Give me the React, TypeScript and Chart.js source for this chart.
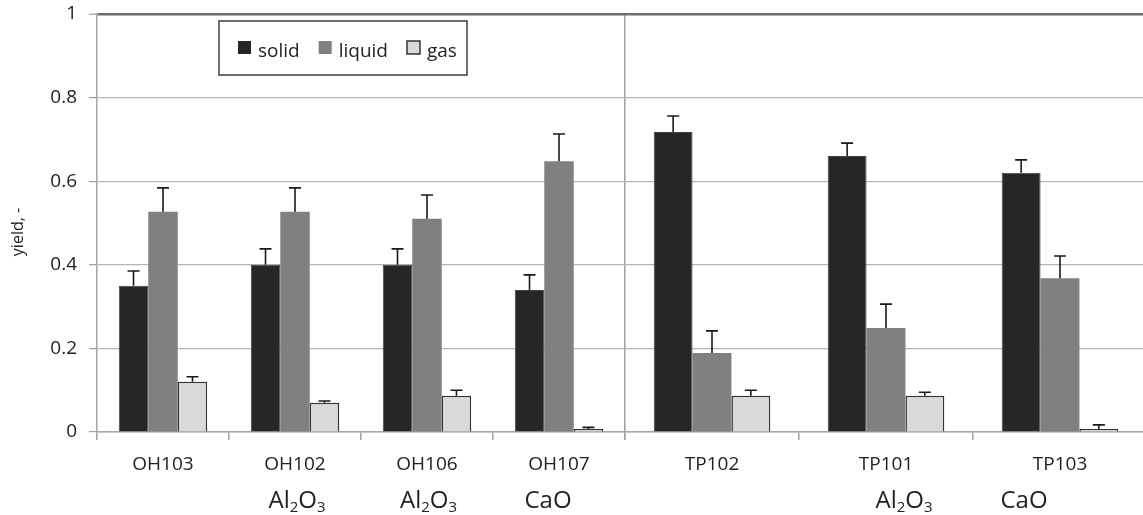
import React, { useEffect, useRef } from 'react';
import { Chart, registerables } from 'chart.js';

Chart.register(...registerables);

// ---- data ----
const seriesNames = ['solid', 'liquid', 'gas'];
const ohCategories = ['OH103', 'OH102', 'OH106', 'OH107'];
const tpCategories = ['TP102', 'TP101', 'TP103'];
const ohAdditives = ['', 'Al2O3', 'Al2O3', 'CaO'];
const tpAdditives = ['', 'Al2O3', 'CaO'];

const solidOH = [0.35, 0.4, 0.4, 0.34];
const liquidOH = [0.527, 0.527, 0.51, 0.648];
const gasOH = [0.12, 0.07, 0.087, 0.007];
const solidTP = [0.718, 0.66, 0.62];
const liquidTP = [0.189, 0.249, 0.368];
const gasTP = [0.087, 0.087, 0.007];

const solidErrOH = [0.035, 0.038, 0.038, 0.036];
const liquidErrOH = [0.057, 0.057, 0.057, 0.065];
const gasErrOH = [0.012, 0.004, 0.013, 0.004];
const solidErrTP = [0.038, 0.031, 0.031];
const liquidErrTP = [0.053, 0.057, 0.053];
const gasErrTP = [0.013, 0.008, 0.01];

const yTicks = [0, 0.2, 0.4, 0.6, 0.8, 1];
const yTitle = 'yield, -';

// ---- styles ----
const FONT = "'Open Sans', 'DejaVu Sans', sans-serif";
const TEXT = '#222222';
const fills = ['#262626', '#808080', '#d9d9d9'];
const borders = ['#444444', '#808080', '#333333'];
const borderWidths = [1, 0, 1.5];
const additiveShift: Record<string, number[]> = { x1: [0, 2, 1.5, -11], x2: [0, 18, -36] };

const errorBarPlugin = {
  id: 'errorBars',
  afterDatasetsDraw(chart: any) {
    const ctx = chart.ctx;
    const yScale = chart.scales.y;
    ctx.save();
    ctx.strokeStyle = '#1a1a1a';
    ctx.lineWidth = 1.6;
    chart.data.datasets.forEach((ds: any, i: number) => {
      const meta = chart.getDatasetMeta(i);
      meta.data.forEach((bar: any, j: number) => {
        const v = ds.data[j];
        const e = ds.errors[j];
        const yTop = yScale.getPixelForValue(v + e);
        const yBase = yScale.getPixelForValue(v);
        ctx.beginPath();
        ctx.moveTo(bar.x, yBase);
        ctx.lineTo(bar.x, yTop);
        ctx.moveTo(bar.x - 6, yTop);
        ctx.lineTo(bar.x + 6, yTop);
        ctx.stroke();
      });
    });
    ctx.restore();
  },
};

function drawFormula(ctx: any, text: string, cx: number, baseline: number) {
  const parts: { t: string; sub: boolean }[] = [];
  for (const ch of text) {
    const sub = /[0-9]/.test(ch);
    const last = parts[parts.length - 1];
    if (last && last.sub === sub) last.t += ch;
    else parts.push({ t: ch, sub });
  }
  const big = `24px ${FONT}`;
  const small = `15px ${FONT}`;
  let total = 0;
  parts.forEach((p) => {
    ctx.font = p.sub ? small : big;
    total += ctx.measureText(p.t).width;
  });
  let x = cx - total / 2;
  ctx.textAlign = 'left';
  ctx.textBaseline = 'alphabetic';
  parts.forEach((p) => {
    ctx.font = p.sub ? small : big;
    ctx.fillText(p.t, x, p.sub ? baseline + 4 : baseline);
    x += ctx.measureText(p.t).width;
  });
}

const annotationPlugin = {
  id: 'annotations',
  afterDraw(chart: any) {
    const ctx = chart.ctx;
    const area = chart.chartArea;
    ctx.save();
    ctx.fillStyle = TEXT;
    const groups: [string, string[]][] = [
      ['x1', ohAdditives],
      ['x2', tpAdditives],
    ];
    groups.forEach(([id, adds]) => {
      const sc = chart.scales[id];
      adds.forEach((a, i) => {
        if (!a) return;
        drawFormula(ctx, a, sc.getPixelForValue(i) + additiveShift[id][i], 508);
      });
    });
    // y-axis title
    ctx.save();
    ctx.translate(18, (area.top + area.bottom) / 2 + 9);
    ctx.rotate(-Math.PI / 2);
    ctx.font = `16px ${FONT}`;
    ctx.textAlign = 'center';
    ctx.textBaseline = 'middle';
    ctx.fillText(yTitle, 0, 0);
    ctx.restore();
    // legend box
    const bx = area.left + 122;
    const by = area.top + 7;
    const bw = 248;
    const bh = 54;
    ctx.fillStyle = '#ffffff';
    ctx.fillRect(bx, by, bw, bh);
    ctx.strokeStyle = '#404040';
    ctx.lineWidth = 1.5;
    ctx.strokeRect(bx, by, bw, bh);
    ctx.font = `19px ${FONT}`;
    ctx.textAlign = 'left';
    ctx.textBaseline = 'alphabetic';
    let x = bx + 19;
    const sq = 13;
    const sy = by + 20;
    seriesNames.forEach((name, i) => {
      ctx.fillStyle = fills[i];
      ctx.fillRect(x, sy, sq, sq);
      if (i === 2) {
        ctx.strokeStyle = '#333333';
        ctx.lineWidth = 1.5;
        ctx.strokeRect(x, sy, sq, sq);
      }
      ctx.fillStyle = TEXT;
      ctx.fillText(name, x + sq + 7, by + 36);
      x += sq + 7 + ctx.measureText(name).width + 19;
    });
    ctx.restore();
  },
};

function makeDatasets(axis: string, vals: number[][], errs: number[][]) {
  return vals.map((d, i) => ({
    label: seriesNames[i],
    data: d,
    errors: errs[i],
    indexAxis: 'x',
    xAxisID: axis,
    yAxisID: 'y',
    backgroundColor: fills[i],
    borderColor: borders[i],
    borderWidth: borderWidths[i],
    categoryPercentage: 0.67,
    barPercentage: 1.0,
  }));
}

export default function App() {
  const ref = useRef<HTMLCanvasElement | null>(null);
  useEffect(() => {
    document.body.style.margin = '0';
    document.body.style.overflow = 'hidden';
    if (!ref.current) return;
    Chart.defaults.font.family = FONT;
    Chart.defaults.color = TEXT;
    const xCommon = (color: any, drawOnChartArea: boolean, weight: number) => ({
      type: 'category',
      axis: 'x',
      position: 'bottom',
      stack: 'xs',
      stackWeight: weight,
      offset: true,
      grid: {
        offset: true,
        drawOnChartArea,
        color,
        tickColor: '#a0a0a0',
        tickLength: 8,
        lineWidth: 1.5,
        tickWidth: 1.5,
      },
      border: { display: true, color: '#a6a6a6', width: 1.5 },
      ticks: {
        autoSkip: false,
        maxRotation: 0,
        minRotation: 0,
        padding: 13,
        font: { size: 19, family: FONT },
        color: TEXT,
      },
      afterFit: (s: any) => {
        s.height = 83;
        s.paddingLeft = 0;
        s.paddingRight = 0;
      },
    });
    const chart = new Chart(ref.current, {
      type: 'bar',
      data: {
        datasets: [
          ...makeDatasets('x1', [solidOH, liquidOH, gasOH], [solidErrOH, liquidErrOH, gasErrOH]),
          ...makeDatasets('x2', [solidTP, liquidTP, gasTP], [solidErrTP, liquidErrTP, gasErrTP]),
        ] as any,
      },
      options: {
        // chart-level index axis set to 'y' so each x axis groups its own bars;
        // every dataset itself is a vertical bar dataset (indexAxis: 'x').
        indexAxis: 'y',
        animation: false,
        responsive: false,
        layout: { padding: { top: 14, right: 13, left: 0, bottom: 0 } },
        plugins: { legend: { display: false }, tooltip: { enabled: false } },
        scales: {
          x1: { ...xCommon('#a0a0a0', false, 528), labels: ohCategories, weight: 1 },
          x2: {
            ...xCommon((c: any) => (c.index === 0 ? '#a0a0a0' : 'rgba(0,0,0,0)'), true, 522),
            labels: tpCategories,
            weight: 2,
          },
          y: {
            type: 'linear',
            axis: 'y',
            position: 'left',
            offset: false,
            min: 0,
            max: 1,
            stacked: false,
            afterBuildTicks: (s: any) => {
              s.ticks = yTicks.map((v) => ({ value: v }));
            },
            afterFit: (s: any) => {
              s.width = 97;
              s.paddingTop = 0;
              s.paddingBottom = 0;
            },
            grid: {
              offset: false,
              color: (c: any) => (c.tick && c.tick.value === 1 ? '#6e6e6e' : '#b5b5b5'),
              lineWidth: (c: any) => (c.tick && c.tick.value === 1 ? 2.5 : 1.2),
              tickColor: '#a0a0a0',
              tickWidth: 1.2,
              tickLength: 8,
            },
            border: { display: true, color: '#a6a6a6', width: 1.5 },
            ticks: {
              padding: 12,
              font: { size: 19, family: FONT },
              color: TEXT,
              callback: (v: any) => String(Math.round(Number(v) * 10) / 10),
            },
          },
        } as any,
      } as any,
      plugins: [errorBarPlugin, annotationPlugin],
    });
    return () => chart.destroy();
  }, []);
  return (
    <div style={{ width: 1143, height: 515, overflow: 'hidden', position: 'relative' }}>
      <canvas ref={ref} width={1160} height={515} style={{ display: 'block', width: 1160, height: 515 }} />
    </div>
  );
}
